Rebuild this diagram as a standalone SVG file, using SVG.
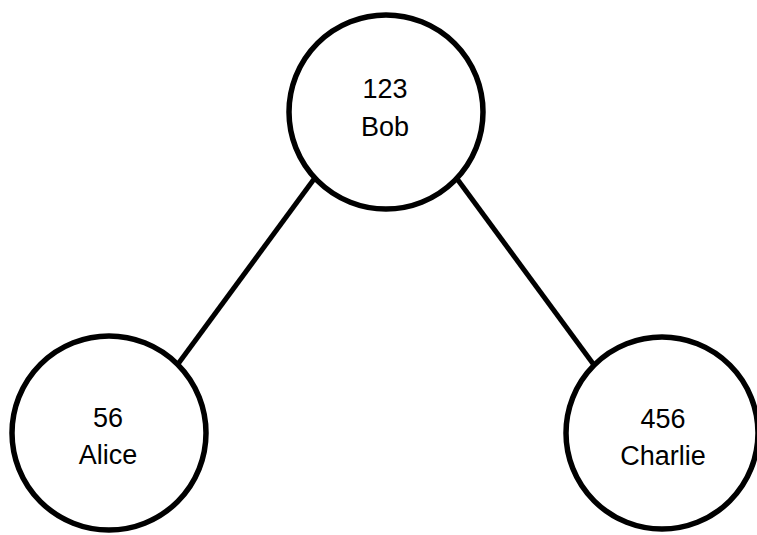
<svg xmlns="http://www.w3.org/2000/svg" width="757" height="535" viewBox="0 0 757 535">
<style>
.node{fill:#fff;stroke:#000;stroke-width:5.5}
.edge{stroke:#000;stroke-width:5;fill:none}
text{font-family:"Liberation Sans",Arial,sans-serif;font-size:27px;fill:#000;text-anchor:middle}
</style>
<rect width="757" height="535" fill="#fff"/>
<g id="connectors">
<line class="edge" x1="317" y1="175" x2="178" y2="364"/>
<line class="edge" x1="455" y1="176" x2="594" y2="365"/>
</g>
<g id="bob">
<circle class="node" cx="386" cy="112" r="97"/>
<text x="385" y="98">123</text>
<text x="385" y="136">Bob</text>
</g>
<g id="alice">
<circle class="node" cx="109" cy="433" r="97"/>
<text x="108" y="427">56</text>
<text x="108" y="464">Alice</text>
</g>
<g id="charlie">
<circle class="node" cx="662" cy="433" r="96"/>
<text x="663" y="428">456</text>
<text x="663" y="465">Charlie</text>
</g>
</svg>
